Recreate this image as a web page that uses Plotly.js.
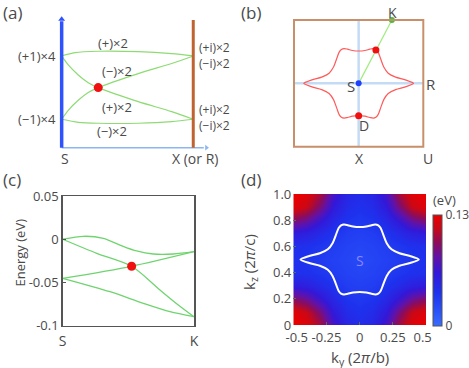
<!DOCTYPE html>
<html><head><meta charset="utf-8">
<script src="https://cdn.plot.ly/plotly-3.0.1.min.js"></script>
<style>html,body{margin:0;padding:0;background:#fff}#chart{width:469px;height:368px}</style>
</head><body><div id="chart"></div>
<script>
// ---------- DATA ----------
// Panel (a): schematic band connectivity S -> X
const aBand1X = [0, 0.101, 0.278, 0.582, 0.836, 1];
const aBand1E = [1, 1.104, 1.148, 1.136, 1.073, 1];
const aBand2X = [0, 0.05, 0.126, 0.202, 0.278, 0.582, 0.836, 1];
const aBand2E = [1, 0.716, 0.40, 0.157, 0.0, -0.444, -0.76, -1];
const aBand3X = [0, 0.05, 0.126, 0.202, 0.278, 0.582, 0.836, 1];
const aBand3E = [-1, -0.716, -0.40, -0.157, 0.0, 0.444, 0.76, 1];
const aBand4X = [0, 0.126, 0.278, 0.582, 0.836, 1];
const aBand4E = [-1, -1.095, -1.126, -1.126, -1.076, -1];
const aCrossX = [0.278];
const aCrossE = [0.0];
const aLabelsLeft = ["(+1)×4", "(−1)×4"];
const aLabelsMid = ["(+)×2", "(−)×2", "(+)×2", "(−)×2"];
const aLabelsRight = ["(+i)×2", "(−i)×2", "(+i)×2", "(−i)×2"];

// Nodal line (ky, kz) in units of 2pi/b, 2pi/c
const nodalKy = [0, 0.05, 0.09, 0.118, 0.14, 0.158, 0.178, 0.204, 0.24, 0.30, 0.38, 0.446,
  0.38, 0.30, 0.24, 0.204, 0.178, 0.158, 0.14, 0.118, 0.09, 0.05, 0,
  -0.05, -0.09, -0.118, -0.14, -0.158, -0.178, -0.204, -0.24, -0.30, -0.38, -0.446,
  -0.38, -0.30, -0.24, -0.204, -0.178, -0.158, -0.14, -0.118, -0.09, -0.05, 0];
const nodalKz = [0.748, 0.752, 0.762, 0.767, 0.76, 0.74, 0.69, 0.625, 0.578, 0.548, 0.527, 0.5,
  0.473, 0.452, 0.422, 0.375, 0.31, 0.26, 0.24, 0.233, 0.238, 0.248, 0.252,
  0.248, 0.238, 0.233, 0.24, 0.26, 0.31, 0.375, 0.422, 0.452, 0.473, 0.5,
  0.527, 0.548, 0.578, 0.625, 0.69, 0.74, 0.76, 0.767, 0.762, 0.752, 0.748];

// Panel (b) special points
const bPathKy = [0, 0.27];
const bPathKz = [0.5, 0.986];
const bDotsKy = [0.14, 0];
const bDotsKz = [0.755, 0.252];

// Panel (c): bands along S-K (eV)
const cBand1X = [0, 0.157, 0.31, 0.436, 0.563, 0.69, 0.842, 1];
const cBand1E = [0, 0.0034, 0.0011, -0.0067, -0.0136, -0.0171, -0.0171, -0.0144];
const cBand2X = [0, 0.259, 0.525, 0.741, 0.868, 1];
const cBand2E = [0, -0.0163, -0.0313, -0.0587, -0.0745, -0.0896];
const cBand3X = [0, 0.525, 1];
const cBand3E = [-0.0452, -0.0313, -0.0144];
const cBand4X = [0, 0.36, 0.614, 0.817, 1];
const cBand4E = [-0.0452, -0.0607, -0.0741, -0.0838, -0.0896];
const cCrossX = [0.525];
const cCrossE = [-0.0313];
const cYTicks = [0.05, 0, -0.05, -0.1];
const cYTickText = ["0.05", "0", "-0.05", "-0.1"];
const cXTickText = ["S", "K"];

// Panel (d): gap map (eV)
const dKy = [-0.5, -0.4, -0.3, -0.2, -0.1, 0, 0.1, 0.2, 0.3, 0.4, 0.5];
const dKz = [0, 0.1, 0.2, 0.3, 0.4, 0.5, 0.6, 0.7, 0.8, 0.9, 1.0];
const dGap = [
  [0.130, 0.125, 0.105, 0.070, 0.050, 0.045, 0.050, 0.070, 0.105, 0.125, 0.130],
  [0.125, 0.115, 0.090, 0.060, 0.045, 0.040, 0.045, 0.060, 0.090, 0.115, 0.125],
  [0.095, 0.085, 0.065, 0.048, 0.038, 0.035, 0.038, 0.048, 0.065, 0.085, 0.095],
  [0.060, 0.055, 0.046, 0.038, 0.032, 0.030, 0.032, 0.038, 0.046, 0.055, 0.060],
  [0.042, 0.040, 0.036, 0.032, 0.028, 0.026, 0.028, 0.032, 0.036, 0.040, 0.042],
  [0.040, 0.037, 0.033, 0.029, 0.026, 0.024, 0.026, 0.029, 0.033, 0.037, 0.040],
  [0.042, 0.040, 0.036, 0.032, 0.028, 0.026, 0.028, 0.032, 0.036, 0.040, 0.042],
  [0.060, 0.055, 0.046, 0.038, 0.032, 0.030, 0.032, 0.038, 0.046, 0.055, 0.060],
  [0.095, 0.085, 0.065, 0.048, 0.038, 0.035, 0.038, 0.048, 0.065, 0.085, 0.095],
  [0.125, 0.115, 0.090, 0.060, 0.045, 0.040, 0.045, 0.060, 0.090, 0.115, 0.125],
  [0.130, 0.125, 0.105, 0.070, 0.050, 0.045, 0.050, 0.070, 0.105, 0.125, 0.130]
];
const dXTicks = [-0.5, -0.25, 0, 0.25, 0.5];
const dXTickText = ["\u00a0\u00a0-0.5", "-0.25", "0", "0.25", "0.5\u00a0\u00a0"];
const dYTicks = [0, 0.2, 0.4, 0.6, 0.8, 1.0];
const dYTickText = ["0", "0.2", "0.4", "0.6", "0.8", "1.0"];

// ---------- LAYOUT HELPERS ----------
const W = 469, H = 368;
const PX = v => v / W;
const PY = v => 1 - v / H;
const FONT = "Open Sans, Lato, sans-serif";
const TXT = "#4a4a4a";
const GREEN = "#8edb74";

function line(x, y, xa, ya, color, width) {
  return {x: x, y: y, xaxis: xa, yaxis: ya, mode: "lines", type: "scatter",
    line: {color: color, width: width, shape: "spline", smoothing: 0.8},
    hoverinfo: "skip", showlegend: false, cliponaxis: false};
}
function dots(x, y, xa, ya, color, size) {
  return {x: x, y: y, xaxis: xa, yaxis: ya, mode: "markers", type: "scatter",
    marker: {color: color, size: size}, hoverinfo: "skip", showlegend: false, cliponaxis: false};
}

const traces = [
  line(aBand1X, aBand1E, "x", "y", GREEN, 1.2),
  line(aBand2X, aBand2E, "x", "y", GREEN, 1.2),
  line(aBand3X, aBand3E, "x", "y", GREEN, 1.2),
  line(aBand4X, aBand4E, "x", "y", GREEN, 1.2),
  dots(aCrossX, aCrossE, "x", "y", "#f01010", 9),

  line(nodalKy, nodalKz, "x2", "y2", "#ff5a5a", 1.2),
  {x: bPathKy, y: bPathKz, xaxis: "x2", yaxis: "y2", mode: "lines", type: "scatter",
   line: {color: "#a0ec80", width: 1.2}, hoverinfo: "skip", showlegend: false, cliponaxis: false},
  dots([bPathKy[0]], [bPathKz[0]], "x2", "y2", "#2040ff", 6),
  dots([bPathKy[1]], [bPathKz[1]], "x2", "y2", "#40c040", 6),
  dots(bDotsKy, bDotsKz, "x2", "y2", "#f01010", 7),

  line(cBand1X, cBand1E, "x3", "y3", "#6fd46f", 1.3),
  line(cBand2X, cBand2E, "x3", "y3", "#6fd46f", 1.3),
  line(cBand3X, cBand3E, "x3", "y3", "#6fd46f", 1.3),
  line(cBand4X, cBand4E, "x3", "y3", "#6fd46f", 1.3),
  dots(cCrossX, cCrossE, "x3", "y3", "#f01010", 9),

  {type: "heatmap", x: dKy, y: dKz, z: dGap, xaxis: "x4", yaxis: "y4",
   zmin: 0, zmax: 0.13, zsmooth: "best", hoverinfo: "skip",
   colorscale: [[0, "#3a6cff"], [0.12, "#2a55fa"], [0.3, "#1e32ee"], [0.48, "#3418d8"],
                [0.62, "#6212a8"], [0.75, "#8e0c5a"], [0.88, "#c80818"], [1, "#ec0000"]],
   colorbar: {x: PX(433), xanchor: "left", y: PY(326), yanchor: "bottom",
     len: 111, lenmode: "pixels", thickness: 9, thicknessmode: "pixels",
     xpad: 0, ypad: 0, outlinewidth: 1, outlinecolor: "#555",
     tickvals: [0, 0.13], ticktext: ["0", "0.13"], ticks: "",
     tickfont: {family: FONT, size: 12, color: TXT}}},
  {x: nodalKy, y: nodalKz, xaxis: "x4", yaxis: "y4", mode: "lines", type: "scatter",
   line: {color: "#ffffff", width: 2, shape: "spline", smoothing: 0.8},
   hoverinfo: "skip", showlegend: false},
  // small arrowheads on the schematic axes of (a)
  {x: [0], y: [2.16], xaxis: "x", yaxis: "y", mode: "markers", type: "scatter",
   marker: {symbol: "triangle-up", size: 6, color: "#2f52ff"}, hoverinfo: "skip", showlegend: false, cliponaxis: false},
  {x: [1.1], y: [-1.897], xaxis: "x", yaxis: "y", mode: "markers", type: "scatter",
   marker: {symbol: "triangle-right", size: 5, color: "#8ab6f2"}, hoverinfo: "skip", showlegend: false, cliponaxis: false}
];

const hidden = {visible: false, fixedrange: true};
const tickf = s => ({family: FONT, size: s, color: TXT});

const layout = {
  width: W, height: H, margin: {l: 0, r: 0, t: 0, b: 0},
  paper_bgcolor: "#fff", plot_bgcolor: "rgba(0,0,0,0)",
  showlegend: false, font: {family: FONT, color: TXT},
  // (a): 131.6 px per unit in x starting at px 61.7; 31.65 px per unit in y centred at py 87.65
  xaxis: Object.assign({domain: [PX(48.5), PX(213.0)], range: [-0.1, 1.15], anchor: "y"}, hidden),
  yaxis: Object.assign({domain: [PY(154.1), PY(14.8)], range: [-2.1, 2.3], anchor: "x"}, hidden),
  xaxis2: Object.assign({domain: [PX(294), PX(423.3)], range: [-0.525, 0.525], anchor: "y2"}, hidden),
  yaxis2: Object.assign({domain: [PY(146.7), PY(20)], range: [0.014, 0.986], anchor: "x2"}, hidden),
  xaxis3: {domain: [PX(62.7), PX(194)], range: [0, 1], anchor: "y3",
    tickvals: [0, 1], ticktext: cXTickText, ticks: "", tickfont: tickf(14),
    showline: true, mirror: true, linecolor: "#555", linewidth: 1.5, showgrid: false, zeroline: false,
    ticklabelstandoff: 2},
  yaxis3: {domain: [PY(325.7), PY(196)], range: [-0.1, 0.05], anchor: "x3",
    tickvals: cYTicks, ticktext: cYTickText, ticks: "inside", ticklen: 3, tickcolor: "#555",
    tickfont: tickf(13), showline: true, mirror: true, linecolor: "#555", linewidth: 1.5,
    showgrid: false, zeroline: false},
  xaxis4: {domain: [PX(293.3), PX(426)], range: [-0.5, 0.5], anchor: "y4",
    tickvals: dXTicks, ticktext: dXTickText, ticks: "inside", ticklen: 3, tickcolor: "#666",
    tickangle: 0, tickfont: tickf(13), showline: false, showgrid: false, zeroline: false,
    ticklabelstandoff: 3},
  yaxis4: {domain: [PY(325), PY(194)], range: [0, 1], anchor: "x4",
    tickvals: dYTicks, ticktext: dYTickText, ticks: "inside", ticklen: 3, tickcolor: "#666",
    tickfont: tickf(13), showline: false, showgrid: false, zeroline: false, ticklabelstandoff: 1},
  shapes: [
    // panel (a) axes
    {type: "line", xref: "x", yref: "y", x0: 0, x1: 1.08, y0: -1.897, y1: -1.897,
     line: {color: "#8ab6f2", width: 1.5}},
    {type: "line", xref: "x", yref: "y", x0: 0, x1: 0, y0: -1.897, y1: 2.1,
     line: {color: "#2f52ff", width: 3.5}},
    {type: "line", xref: "x", yref: "y", x0: 1, x1: 1, y0: -1.897, y1: 2.137,
     line: {color: "#bf6430", width: 3}},
    // panel (b) BZ box & axes
    {type: "line", xref: "x2", yref: "y2 domain", x0: 0, x1: 0, y0: 0, y1: 1,
     line: {color: "#c4dbf5", width: 2.5}, layer: "below"},
    {type: "line", xref: "x2 domain", yref: "y2", x0: 0, x1: 1, y0: 0.5, y1: 0.5,
     line: {color: "#c4dbf5", width: 2.5}, layer: "below"},
    {type: "rect", xref: "x2 domain", yref: "y2 domain", x0: 0, x1: 1, y0: 0, y1: 1,
     line: {color: "#c98f6a", width: 2}}
  ],
  annotations: []
};

const ann = layout.annotations;
function txt(t, x, y, size, opts) {
  ann.push(Object.assign({text: t, x: PX(x), y: PY(y), xref: "paper", yref: "paper",
    showarrow: false, font: {family: FONT, size: size, color: TXT},
    xanchor: "center", yanchor: "middle"}, opts || {}));
}

// panel labels
txt("(a)", 12, 13, 17);
txt("(b)", 251, 13, 17);
txt("(c)", 12, 179, 17);
txt("(d)", 251, 180, 17);

// (a) texts
txt(aLabelsLeft[0], 58, 56, 13, {xanchor: "right"});
txt(aLabelsLeft[1], 58, 119, 13, {xanchor: "right"});
txt(aLabelsMid[0], 113, 43, 13);
txt(aLabelsMid[1], 117, 71, 13);
txt(aLabelsMid[2], 117, 107, 13);
txt(aLabelsMid[3], 112, 131, 13);
txt(aLabelsRight[0], 197, 47.5, 12, {xanchor: "left"});
txt(aLabelsRight[1], 197, 63.5, 12, {xanchor: "left"});
txt(aLabelsRight[2], 197, 109.5, 12, {xanchor: "left"});
txt(aLabelsRight[3], 197, 125.5, 12, {xanchor: "left"});
txt("S", 65, 158, 14);
txt("X (or R)", 195, 158, 14);

// (b) texts
txt("K", 392, 12, 14);
txt("R", 431, 84, 15);
txt("S", 351, 86, 15);
txt("D", 364, 125, 14);
txt("X", 359, 158, 14);
txt("U", 428, 158, 14);

// (c) y title
txt("Energy (eV)", 19.5, 253, 13, {textangle: -90});

// (d) titles
txt("k<sub>y</sub> (2<i>π</i>/b)", 360, 358, 15);
txt("k<sub>z</sub> (2<i>π</i>/c)", 250, 262, 15, {textangle: -90});
txt("(eV)", 444, 200, 13);
txt("S", 360, 260, 14, {font: {family: FONT, size: 14, color: "#8c86ff"}});

Plotly.newPlot("chart", traces, layout, {staticPlot: true, displayModeBar: false});
</script></body></html>
